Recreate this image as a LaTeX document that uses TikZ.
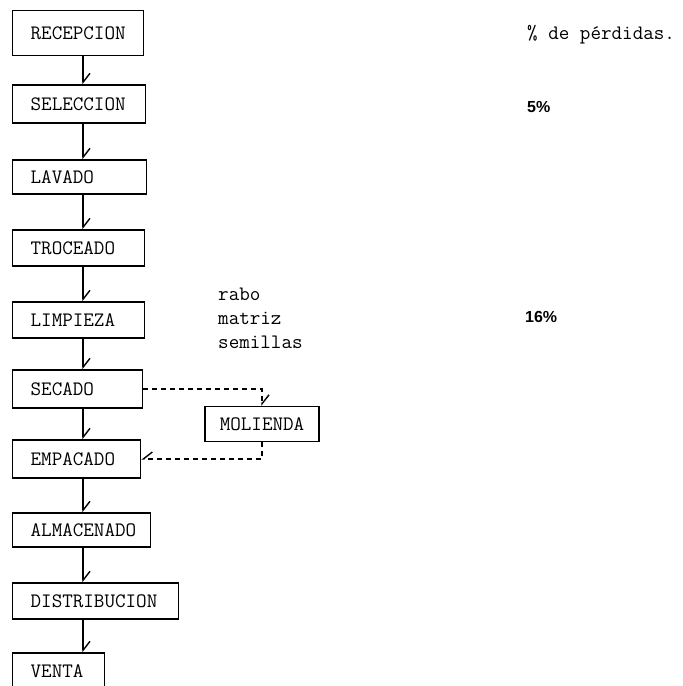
\documentclass[tikz,border=0pt]{standalone}
\usepackage{fontspec}
\usepackage{tikz}
\usetikzlibrary{positioning,arrows.meta,calc}
\usepackage{xcolor}
\newfontfamily\cifras{Liberation Sans}

\begin{document}
\begin{tikzpicture}[x=1pt,y=1pt,every node/.style={font=\ttfamily\fontsize{20.5}{24}\selectfont},
  etapa/.style={draw,line width=1.3pt,anchor=west,inner xsep=18pt,inner ysep=0pt,
    text width=#1,align=left,minimum height=36pt},
  flecha/.style={line width=1.3pt,-{Straight Barb[left,length=9pt,width=14pt,line width=1.4pt]}},
  discont/.style={line width=1.3pt,dash pattern=on 5pt off 4pt},
  nota/.style={anchor=west,inner sep=0pt}]
\useasboundingbox (0,0) rectangle (683,-686);
\coordinate (eje) at (83,0);
\node[etapa=95pt,minimum height=45pt] (recepcion) at (12,-33) {RECEPCION};
\node[etapa=97pt,minimum height=38pt] (seleccion) at (12,-104) {SELECCION};
\node[etapa=98pt,minimum height=34pt] (lavado) at (12,-177) {LAVADO};
\node[etapa=96pt] (troceado) at (12,-248) {TROCEADO};
\node[etapa=96pt] (limpieza) at (12,-320) {LIMPIEZA};
\node[etapa=94pt,minimum height=38pt] (secado) at (12,-389) {SECADO};
\node[draw,line width=1.3pt,minimum width=114pt,minimum height=35pt,inner sep=0pt] (molienda) at (262,-424) {MOLIENDA};
\node[etapa=92pt,minimum height=38pt] (empacado) at (12,-459) {EMPACADO};
\node[etapa=102pt,minimum height=34pt] (almacenado) at (12,-530) {ALMACENADO};
\node[etapa=130pt] (distribucion) at (12,-601) {DISTRIBUCION};
\node[etapa=56pt] (venta) at (12,-671) {VENTA};
% flujo principal
\draw[flecha] (recepcion.south -| eje) -- (seleccion.north -| eje);
\draw[flecha] (seleccion.south -| eje) -- (lavado.north -| eje);
\draw[flecha] (lavado.south -| eje) -- (troceado.north -| eje);
\draw[flecha] (troceado.south -| eje) -- (limpieza.north -| eje);
\draw[flecha] (limpieza.south -| eje) -- (secado.north -| eje);
\draw[flecha] (secado.south -| eje) -- (empacado.north -| eje);
\draw[flecha] (empacado.south -| eje) -- (almacenado.north -| eje);
\draw[flecha] (almacenado.south -| eje) -- (distribucion.north -| eje);
\draw[flecha] (distribucion.south -| eje) -- (venta.north -| eje);
% molienda
\draw[discont,-{Straight Barb[left,length=9pt,width=14pt,line width=1.4pt,sep=0pt]}] (secado.east) -| (molienda.north);
\draw[discont,-{Straight Barb[right,length=9pt,width=14pt,line width=1.4pt]}] (molienda.south) |- (empacado.east);
% perdidas
\node[nota] (titulo) at (527,-35) {\% de pérdidas.};
\node[nota,align=left] (residuos) at (218,-318) {rabo\\matriz\\semillas};
\node[nota,font=\cifras\bfseries\fontsize{16}{18}\selectfont] (p5) at (527,-107) {5\%};
\node[nota,font=\cifras\bfseries\fontsize{16}{18}\selectfont] (p16) at (525,-317) {16\%};
\end{tikzpicture}
\end{document}
